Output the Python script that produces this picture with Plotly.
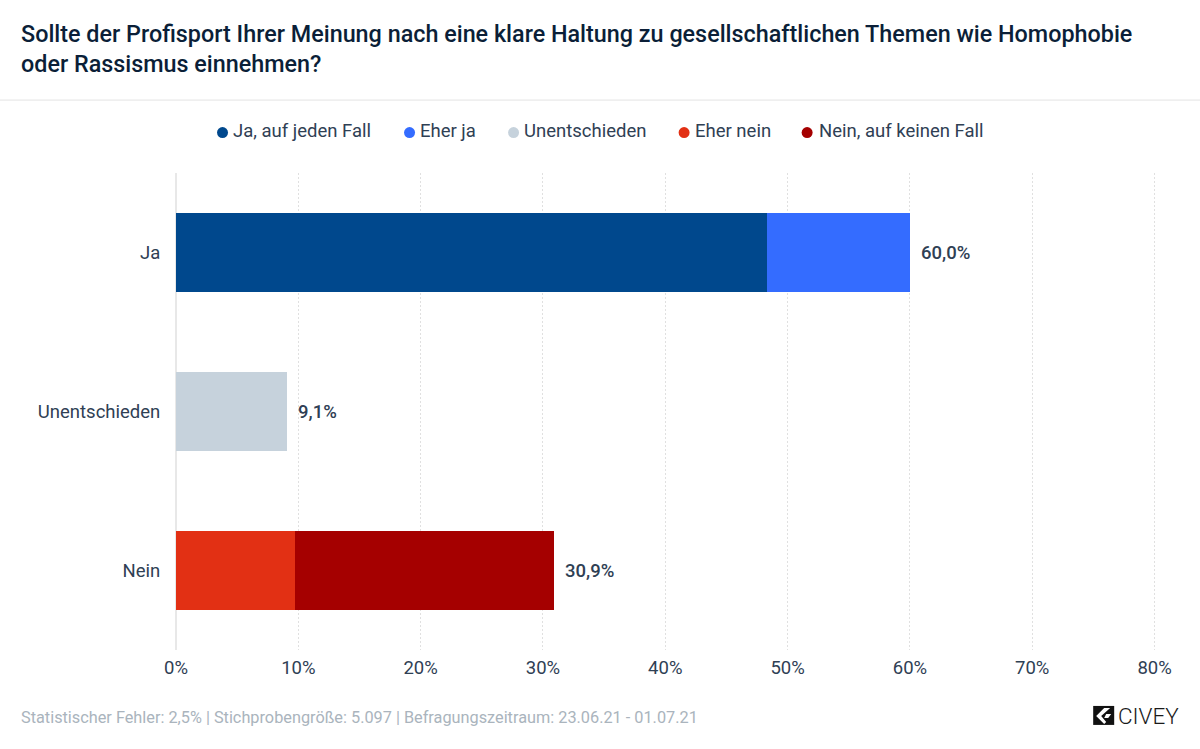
from __future__ import annotations

import plotly.graph_objects as go

WIDTH = 1200
HEIGHT = 749
LEFT, RIGHT, TOP, BOTTOM = 176, 1156.8, 172.5, 650

title_text = (
    "Sollte der Profisport Ihrer Meinung nach eine klare Haltung zu gesellschaftlichen Themen wie Homophobie"
    "<br>oder Rassismus einnehmen?"
)
footer_text = "Statistischer Fehler: 2,5% | Stichprobengröße: 5.097 | Befragungszeitraum: 23.06.21 - 01.07.21"

categories = ["Ja", "Unentschieden", "Nein"]
series_names = ["Ja, auf jeden Fall", "Eher ja", "Unentschieden", "Eher nein", "Nein, auf keinen Fall"]
series_colors = ["#00488d", "#346cff", "#c6d2dc", "#e23014", "#a50000"]
ja_auf_jeden_fall = [48.3, 0, 0]
eher_ja = [11.7, 0, 0]
unentschieden = [0, 9.1, 0]
eher_nein = [0, 0, 9.7]
nein_auf_keinen_fall = [0, 0, 21.2]
totals = [60.0, 9.1, 30.9]
total_labels = ["60,0%", "9,1%", "30,9%"]
x_ticks = [0, 10, 20, 30, 40, 50, 60, 70, 80]
x_tick_labels = ["0%", "10%", "20%", "30%", "40%", "50%", "60%", "70%", "80%"]

# pixel spots of the hand placed legend row
legend_dot_x = [222.5, 409.5, 513.5, 684, 807]
legend_text_x = [232, 419, 523, 694, 818]
LEGEND_DOT_Y = 132
LEGEND_TEXT_Y = 130.5


def page_x(px: float) -> float:
    return (px - LEFT) / (RIGHT - LEFT)


def page_y(px: float) -> float:
    return (BOTTOM - px) / (BOTTOM - TOP)


def logo_path(points: list[tuple[float, float]]) -> str:
    parts = [f"{page_x(x)},{page_y(y)}" for x, y in points]
    return "M" + " L".join(parts) + " Z"


def add_page_text(fig, x, y, text, size, color, weight=400, align="left"):
    fig.add_annotation(
        x=page_x(x),
        y=page_y(y),
        xref="paper",
        yref="paper",
        text=text,
        showarrow=False,
        xanchor="left",
        yanchor="middle",
        align=align,
        borderpad=0,
        font=dict(family="Roboto", size=size, color=color, weight=weight),
    )


fig = go.Figure()

all_series = [ja_auf_jeden_fall, eher_ja, unentschieden, eher_nein, nein_auf_keinen_fall]
for name, color, values in zip(series_names, series_colors, all_series):
    fig.add_trace(
        go.Bar(
            x=values,
            y=categories,
            orientation="h",
            name=name,
            marker=dict(color=color, line=dict(width=0)),
            width=0.5,
            showlegend=False,
        )
    )

for category, total, label in zip(categories, totals, total_labels):
    fig.add_annotation(
        x=total,
        y=category,
        text=label,
        showarrow=False,
        xanchor="left",
        xshift=9,
        font=dict(family="Roboto", size=18.5, color="#2f4054", weight=500),
    )

# plotly's own legend keeps too wide a gap after the dot, so the row is built here
for name, color, dot_x, text_x in zip(series_names, series_colors, legend_dot_x, legend_text_x):
    fig.add_shape(
        type="circle",
        xref="paper",
        yref="paper",
        x0=page_x(dot_x - 5.5),
        x1=page_x(dot_x + 5.5),
        y0=page_y(LEGEND_DOT_Y + 5.5),
        y1=page_y(LEGEND_DOT_Y - 5.5),
        fillcolor=color,
        line=dict(width=0),
    )
    add_page_text(fig, text_x, LEGEND_TEXT_Y, name, 18.5, "#2f4054")

add_page_text(fig, 20, 48.5, title_text, 23.35, "#0b1f38", weight=500)
add_page_text(fig, 20, 718, footer_text, 16.3, "#aab4bd")
add_page_text(fig, 1117, 716, "CIVEY", 22.5, "#1a1a1a", weight=300)

fig.add_shape(
    type="line",
    xref="paper",
    yref="paper",
    x0=page_x(0),
    x1=page_x(WIDTH),
    y0=page_y(99.5),
    y1=page_y(99.5),
    line=dict(color="#e3e3e3", width=1),
)
fig.add_shape(
    type="rect",
    xref="paper",
    yref="paper",
    x0=page_x(1093),
    x1=page_x(1114),
    y0=page_y(706),
    y1=page_y(725),
    fillcolor="#111111",
    line=dict(width=0),
)
fig.add_shape(
    type="path",
    xref="paper",
    yref="paper",
    path=logo_path([(1096, 716), (1104, 708), (1110, 708), (1101, 716), (1106, 722), (1104, 724)]),
    fillcolor="#ffffff",
    line=dict(width=0),
)
fig.add_shape(
    type="path",
    xref="paper",
    yref="paper",
    path=logo_path([(1106, 714), (1111, 714), (1108, 718), (1104, 718)]),
    fillcolor="#ffffff",
    line=dict(width=0),
)

fig.update_layout(
    width=WIDTH,
    height=HEIGHT,
    autosize=False,
    barmode="stack",
    showlegend=False,
    paper_bgcolor="#ffffff",
    plot_bgcolor="#ffffff",
    margin=dict(l=LEFT, r=WIDTH - RIGHT, t=TOP, b=HEIGHT - BOTTOM, pad=0),
    font=dict(family="Roboto", size=18.5, color="#2f4054"),
    xaxis=dict(
        # plotly drops gridlines right at the axis end, so run a little past 80
        range=[0, 80.2],
        tickvals=x_ticks,
        ticktext=x_tick_labels,
        showgrid=True,
        gridcolor="#e0e0e0",
        griddash="2px,2px",
        gridwidth=1,
        zeroline=True,
        zerolinecolor="#e8e8e8",
        zerolinewidth=2,
        showline=False,
        ticks="outside",
        ticklen=1,
        tickcolor="rgba(0,0,0,0)",
    ),
    yaxis=dict(
        categoryorder="array",
        categoryarray=categories,
        autorange="reversed",
        showgrid=False,
        zeroline=False,
        showline=False,
        ticks="outside",
        ticklen=11,
        tickcolor="rgba(0,0,0,0)",
    ),
)

# the page's default body margin would push the chart 8px off
fig.write_html(
    "out.html",
    config={"displayModeBar": False},
    post_script="document.body.style.margin = '0';",
)
